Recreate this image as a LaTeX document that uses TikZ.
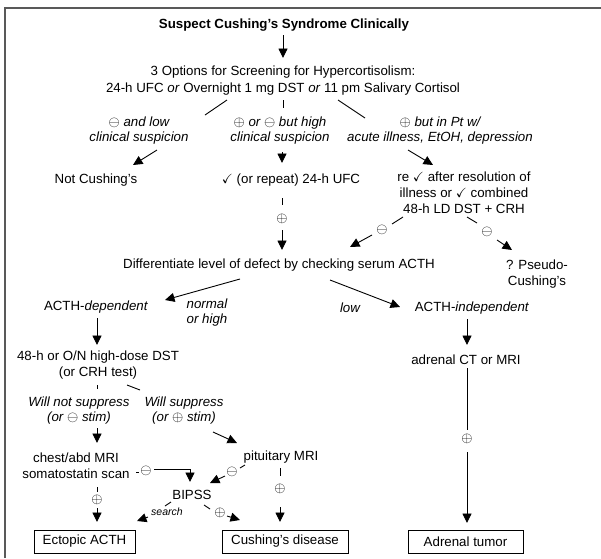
\documentclass[tikz,border=0pt]{standalone}
\usepackage{amssymb}
\usepackage{fontspec}
\setmainfont{Liberation Sans}
\usepackage{tikz}
\usetikzlibrary{arrows.meta}

\begin{document}
\begin{tikzpicture}[
		x=1pt, y=-1pt,
		every node/.style={font=\fontsize{13.3}{16}\selectfont, align=center, inner sep=0pt},
		lbl/.style={font=\fontsize{13.3}{15.5}\selectfont\itshape},
		sgn/.style={font=\fontsize{15}{16}\selectfont},
		endbox/.style={
			rectangle,
			draw,
			line width=0.8pt,
			minimum height=23pt
		},
		arrow/.style={
			-{Triangle[length=9.5pt, width=9pt]},
			line width=0.9pt
		},
		link/.style={line width=0.9pt}
		]
		
		\useasboundingbox (0,0) rectangle (601,558);
		
		% Frame
		\draw[line width=1.6pt, black!65] (5,558) -- (5,8) -- (601,8);
		
		% Nodes
		\node[font=\fontsize{13.3}{16}\selectfont\bfseries] (suspect) at (284,25) {Suspect Cushing's Syndrome Clinically};
		
		\node (screen) at (283,80.5) {3 Options for Screening for Hypercortisolism:\\[1pt]
			24-h UFC \textit{or} Overnight 1 mg DST \textit{or} 11 pm Salivary Cortisol};
		
		\node[lbl] (lowneg) at (139,130.5) {$\ominus$ and low\\clinical suspicion};
		\node[lbl] (highsusp) at (280,130.5) {$\oplus$ or $\ominus$ but high\\clinical suspicion};
		\node[lbl] (acute) at (440,130.5) {$\oplus$ but in Pt w/\\acute illness, EtOH, depression};
		
		\node (notc) at (96,180) {Not Cushing's};
		\node (repeat) at (291,180) {$\checkmark$ (or repeat) 24-h UFC};
		\node (recheck) at (464,193) {re $\checkmark$ after resolution of\\illness or $\checkmark$ combined\\48-h LD DST + CRH};
		
		\node[sgn] (sgA) at (282,219) {$\oplus$};
		\node[sgn] (sgB) at (382,230) {$\ominus$};
		\node[sgn] (sgC) at (487,232) {$\ominus$};
		
		\node (diff) at (279,265) {Differentiate level of defect by checking serum ACTH};
		\node (pseudo) at (537,274) {? Pseudo-\\Cushing's};
		
		\node (acthdep) at (96,307) {ACTH-\textit{dependent}};
		\node[lbl] (normal) at (207,312.5) {normal\\or high};
		\node[lbl] (low) at (350,308) {low};
		\node (acthind) at (472,308) {ACTH-\textit{independent}};
		
		\node (hddst) at (98,365.5) {48-h or O/N high-dose DST\\(or CRH test)};
		\node (adrct) at (466,360) {adrenal CT or MRI};
		
		\node[lbl] (notsupp) at (79,410.5) {Will not suppress\\(or $\ominus$ stim)};
		\node[lbl] (supp) at (184,410.5) {Will suppress\\(or $\oplus$ stim)};
		
		\node (chest) at (76,465.5) {chest/abd MRI\\somatostatin scan};
		\node (pitmri) at (281,457) {pituitary MRI};
		\node (bipss) at (192,495) {BIPSS};
		
		\node[sgn] (sgD) at (146,471) {$\ominus$};
		\node[sgn] (sgE) at (232,472) {$\ominus$};
		\node[sgn] (sgF) at (280,489) {$\oplus$};
		\node[sgn] (sgG) at (97,500) {$\oplus$};
		\node[sgn] (sgH) at (220,513) {$\oplus$};
		\node[sgn] (sgI) at (467,439) {$\oplus$};
		\node[font=\fontsize{10.5}{12}\selectfont\itshape] (search) at (167,512) {search};
		
		\node[endbox, minimum width=101pt] (ectopic) at (84.5,541.5) {Ectopic ACTH};
		\node[endbox, minimum width=126pt] (cushdis) at (285,541.5) {Cushing's disease};
		\node[endbox, minimum width=115pt] (adrtumor) at (465.5,541.5) {Adrenal tumor};
		
		% Arrows (screening)
		\draw[arrow] ([shift={(-1,10)}]suspect.center) -- ([shift={(0,-22.5)}]screen.center);
		\draw[link] ([shift={(-56,19.5)}]screen.center) -- ([shift={(66,-15.5)}]lowneg.center);
		\draw[link] ([shift={(0,19.5)}]screen.center) -- ([shift={(3,-22.5)}]highsusp.center);
		\draw[link] ([shift={(55,19.5)}]screen.center) -- ([shift={(-75,-12.5)}]acute.center);
		\draw[arrow] ([shift={(18,19.5)}]lowneg.center) -- ([shift={(37,-15)}]notc.center);
		\draw[arrow] ([shift={(2,21.5)}]highsusp.center) -- ([shift={(-9,-17)}]repeat.center);
		\draw[arrow] ([shift={(-32,19.5)}]acute.center) -- ([shift={(-31,-28)}]recheck.center);
		
		% Arrows (to ACTH level)
		\draw[link] ([shift={(-9,18)}]repeat.center) -- ([shift={(0,-14)}]sgA.center);
		\draw[arrow] ([shift={(0,11)}]sgA.center) -- ([shift={(3,-15)}]diff.center);
		\draw[link] ([shift={(-61,24)}]recheck.center) -- ([shift={(10,-6)}]sgB.center);
		\draw[arrow] ([shift={(-10,5)}]sgB.center) -- ([shift={(71,-18)}]diff.center);
		\draw[link] ([shift={(3,24)}]recheck.center) -- ([shift={(-10,-9)}]sgC.center);
		\draw[arrow] ([shift={(10,8)}]sgC.center) -- ([shift={(-25,-24)}]pseudo.center);
		\draw[arrow] ([shift={(-39,14)}]diff.center) -- ([shift={(69,-7)}]acthdep.center);
		\draw[arrow] ([shift={(51,15)}]diff.center) -- ([shift={(-72,-1)}]acthind.center);
		
		% Arrows (dependent branch)
		\draw[arrow] ([shift={(1,11)}]acthdep.center) -- ([shift={(-1,-20.5)}]hddst.center);
		\draw[link] ([shift={(-1,19.5)}]hddst.center) -- ([shift={(18,-21.5)}]notsupp.center);
		\draw[link] ([shift={(29,19.5)}]hddst.center) -- ([shift={(-44,-20.5)}]supp.center);
		\draw[arrow] ([shift={(18,17.5)}]notsupp.center) -- ([shift={(21,-22.5)}]chest.center);
		\draw[arrow] ([shift={(29,21.5)}]supp.center) -- ([shift={(-44,-14)}]pitmri.center);
		\draw[link] ([shift={(60,6.5)}]chest.center) -- ([shift={(-7,1)}]sgD.center);
		\draw[arrow] ([shift={(8,-2)}]sgD.center) -| ([shift={(-2,-13)}]bipss.center);
		\draw[link] ([shift={(-36,8)}]pitmri.center) -- ([shift={(8,-4)}]sgE.center);
		\draw[arrow] ([shift={(-7,4)}]sgE.center) -- ([shift={(18,-12)}]bipss.center);
		\draw[link] ([shift={(-1,11)}]pitmri.center) -- ([shift={(0,-13)}]sgF.center);
		\draw[arrow] ([shift={(0,18)}]sgF.center) -- ([shift={(-5,-19.5)}]cushdis.center);
		\draw[link] ([shift={(21,21.5)}]chest.center) -- ([shift={(0,-8)}]sgG.center);
		\draw[arrow] ([shift={(0,8)}]sgG.center) -- ([shift={(12.5,-19.5)}]ectopic.center);
		\draw[link] ([shift={(-21,7)}]bipss.center) -- ([shift={(-2,-6)}]search.center);
		\draw[arrow] ([shift={(-19,5)}]search.center) -- ([shift={(52.5,-20.5)}]ectopic.center);
		\draw[link] ([shift={(12,10)}]bipss.center) -- ([shift={(-10,-4)}]sgH.center);
		\draw[arrow] ([shift={(7,3)}]sgH.center) -- ([shift={(-45,-21.5)}]cushdis.center);
		
		% Arrows (independent branch)
		\draw[arrow] ([shift={(-5,11)}]acthind.center) -- ([shift={(1,-15)}]adrct.center);
		\draw[link] ([shift={(1,8)}]adrct.center) -- ([shift={(0,-9)}]sgI.center);
		\draw[arrow] ([shift={(0,13)}]sgI.center) -- ([shift={(1.5,-18.5)}]adrtumor.center);
		
	\end{tikzpicture}
\end{document}
